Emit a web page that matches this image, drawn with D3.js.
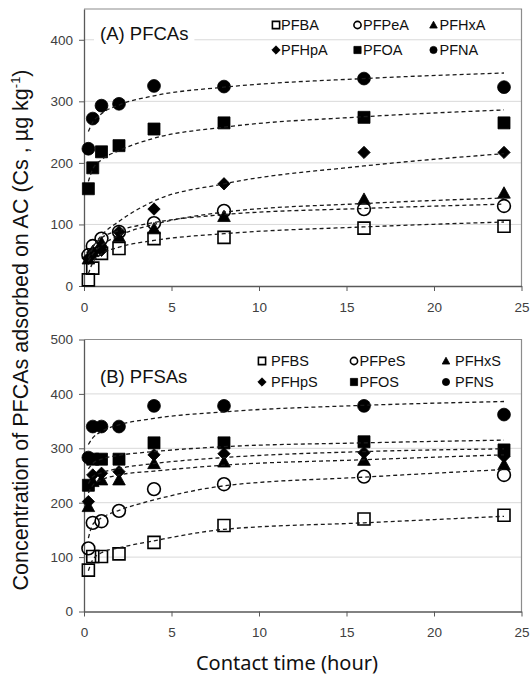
<!DOCTYPE html>
<html lang="en">
<head>
<meta charset="UTF-8">
<title>PFAS adsorption kinetics</title>
<script src="https://cdn.jsdelivr.net/npm/d3@7"></script>
<style>
  body { margin: 0; background: #fff; }
  svg text { font-family: "Liberation Sans", Arial, sans-serif; }
</style>
</head>
<body>
<svg id="chart" width="532" height="676"></svg>
<script>
// contact times (hour)
const times = [0.25, 0.5, 1, 2, 4, 8, 16, 24];

// (A) PFCAs - measured
const PFBA  = [10, 29, 53, 61, 77, 79, 94, 97];
const PFPeA = [50, 65, 77, 88, 102, 122, 125, 130];
const PFHxA = [44, 56, 70, 80, 93, 113, 141, 151];
const PFHpA = [45, 55, 58, 88, 125, 166, 217, 217];
const PFOA  = [158, 192, 218, 228, 255, 265, 274, 265];
const PFNA  = [223, 272, 293, 296, 325, 324, 337, 323];
// (A) fitted curves
const PFBA_fit  = [20, 38, 52, 63, 74, 85, 96, 104];
const PFPeA_fit = [52, 64, 78, 90, 103, 116, 126, 133];
const PFHxA_fit = [40, 52, 66, 82, 100, 120, 134, 143];
const PFHpA_fit = [45, 62, 82, 105, 138, 166, 195, 215];
const PFOA_fit  = [170, 190, 205, 220, 240, 258, 275, 286];
const PFNA_fit  = [251, 266, 280, 294, 309, 323, 337, 346];

// (B) PFSAs - measured
const PFBS  = [76, 101, 101, 106, 127, 158, 170, 177];
const PFPeS = [116, 163, 166, 185, 225, 234, 248, 251];
const PFHxS = [193, 239, 242, 242, 272, 275, 278, 270];
const PFHpS = [202, 251, 254, 257, 288, 290, 292, 285];
const PFOS  = [232, 280, 280, 280, 310, 310, 312, 297];
const PFNS  = [283, 340, 340, 340, 378, 378, 378, 362];
// (B) fitted curves
const PFBS_fit  = [75, 95, 108, 117, 130, 151, 163, 175];
const PFPeS_fit = [135, 160, 172, 186, 205, 231, 247, 261];
const PFHxS_fit = [218, 232, 242, 251, 258, 269, 279, 288];
const PFHpS_fit = [235, 248, 255, 263, 272, 283, 294, 299];
const PFOS_fit  = [262, 272, 280, 287, 294, 303, 310, 315];
const PFNS_fit  = [307, 319, 331, 343, 355, 367, 379, 386];

const xTicks = [0, 5, 10, 15, 20, 25];
const symbols = ["square", "circle", "triangle", "diamond", "filledSquare", "filledCircle"];

const panels = [
  { title: "(A) PFCAs", yMax: 450, yTicks: [0, 100, 200, 300, 400], top: 9, bottom: 286,
    names: ["PFBA", "PFPeA", "PFHxA", "PFHpA", "PFOA", "PFNA"],
    obs: [PFBA, PFPeA, PFHxA, PFHpA, PFOA, PFNA],
    fit: [PFBA_fit, PFPeA_fit, PFHxA_fit, PFHpA_fit, PFOA_fit, PFNA_fit],
    titleY: 40, legY: [25, 50], legX: [276, 357.5, 433.5], textX: [281, 363, 439.5] },
  { title: "(B) PFSAs", yMax: 500, yTicks: [0, 100, 200, 300, 400, 500], top: 339.5, bottom: 611.5,
    names: ["PFBS", "PFPeS", "PFHxS", "PFHpS", "PFOS", "PFNS"],
    obs: [PFBS, PFPeS, PFHxS, PFHpS, PFOS, PFNS],
    fit: [PFBS_fit, PFPeS_fit, PFHxS_fit, PFHpS_fit, PFOS_fit, PFNS_fit],
    titleY: 383, legY: [361, 382], legX: [262, 354, 446], textX: [271, 359.5, 455] }
];

const svg = d3.select("#chart");
const x = d3.scaleLinear().domain([0, 25]).range([84, 521.5]);

function markerPath(type, s) {
  // s = half size
  if (type.includes("ircle")) return d3.symbol(d3.symbolCircle, Math.PI * s * s)();
  if (type.includes("quare")) return `M${-s},${-s}H${s}V${s}H${-s}Z`;
  if (type === "triangle") return `M0,${-s * 1.05}L${s * 1.05},${s * 0.85}L${-s * 1.05},${s * 0.85}Z`;
  return `M0,${-s}L${s},0L0,${s}L${-s},0Z`;
}

function drawMarker(g, type, cx, cy, s) {
  const open = type === "square" || type === "circle";
  g.append("path")
    .attr("d", markerPath(type, s))
    .attr("transform", `translate(${cx},${cy})`)
    .attr("fill", open ? "none" : "#000")
    .attr("stroke", "#000")
    .attr("stroke-width", open ? 1.6 : 0.8);
}

panels.forEach(p => {
  const y = d3.scaleLinear().domain([0, p.yMax]).range([p.bottom, p.top]);
  const g = svg.append("g");

  // gridlines
  g.selectAll(".grid").data(p.yTicks.filter(d => d > 0 && d < p.yMax)).join("line")
    .attr("x1", x(0)).attr("x2", x(25))
    .attr("y1", d => y(d)).attr("y2", d => y(d))
    .attr("stroke", "#d9d9d9").attr("stroke-width", 1);

  // frame (top/right)
  g.append("path")
    .attr("d", `M${x(0)},${y(p.yMax)}H${x(25)}V${y(0)}`)
    .attr("fill", "none").attr("stroke", "#8c8c8c").attr("stroke-width", 1.2);

  // axes
  const yAxis = g.append("g").attr("transform", `translate(${x(0)},0)`)
    .call(d3.axisLeft(y).tickValues(p.yTicks).tickSize(5).tickPadding(6).tickSizeOuter(0));
  const xAxis = g.append("g").attr("transform", `translate(0,${y(0)})`)
    .call(d3.axisBottom(x).tickValues(xTicks).tickSize(5).tickPadding(11).tickSizeOuter(0));
  [yAxis, xAxis].forEach(a => {
    a.select(".domain").attr("stroke", "#595959").attr("stroke-width", 1.3);
    a.selectAll(".tick line").attr("stroke", "#595959");
    a.selectAll("text").attr("font-size", 13.5).attr("fill", "#404040")
      .attr("font-family", "'Liberation Sans', Arial, sans-serif");
  });

  // title with white box
  const t = g.append("text").attr("x", 100).attr("y", p.titleY)
    .attr("font-size", 18.5).attr("fill", "#111").text(p.title);
  const bb = t.node().getBBox();
  g.insert("rect", () => t.node())
    .attr("x", bb.x - 6).attr("y", bb.y).attr("width", bb.width + 12).attr("height", bb.height)
    .attr("fill", "#fff");

  // markers
  p.obs.forEach((vals, i) => {
    const mg = g.append("g");
    vals.forEach((v, j) => drawMarker(mg, symbols[i], x(times[j]), y(v), i === 3 ? 6.2 : (symbols[i].includes("ircle") ? 6.4 : 6)));
  });

  // fitted dashed curves
  const line = d3.line().x((d, j) => x(times[j])).y(d => y(d)).curve(d3.curveMonotoneX);
  p.fit.forEach(vals => {
    g.append("path").attr("d", line(vals))
      .attr("fill", "none").attr("stroke", "#1a1a1a").attr("stroke-width", 1.3)
      .attr("stroke-dasharray", "4,3");
  });

  // legend
  p.names.forEach((name, i) => {
    const row = Math.floor(i / 3), col = i % 3;
    drawMarker(g, symbols[i], p.legX[col], p.legY[row], i === 3 ? 4.2 : 3.6);
    g.append("text").attr("x", p.textX[col]).attr("y", p.legY[row] + 5)
      .attr("font-size", 14.5).attr("fill", "#111").text(name);
  });
});

// axis titles
svg.append("text")
  .attr("transform", "translate(28,330) rotate(-90)")
  .attr("text-anchor", "middle").attr("font-size", 21.5).attr("fill", "#111")
  .html('Concentration of PFCAs adsorbed on AC (Cs , µg kg<tspan dy="-8" font-size="13">-1</tspan><tspan dy="8">)</tspan>');

svg.append("text")
  .attr("x", 287).attr("y", 670)
  .attr("text-anchor", "middle").attr("font-size", 20).attr("fill", "#111")
  .style("font-family", "'Noto Sans', 'Open Sans', sans-serif")
  .text("Contact time (hour)");
</script>
</body>
</html>
